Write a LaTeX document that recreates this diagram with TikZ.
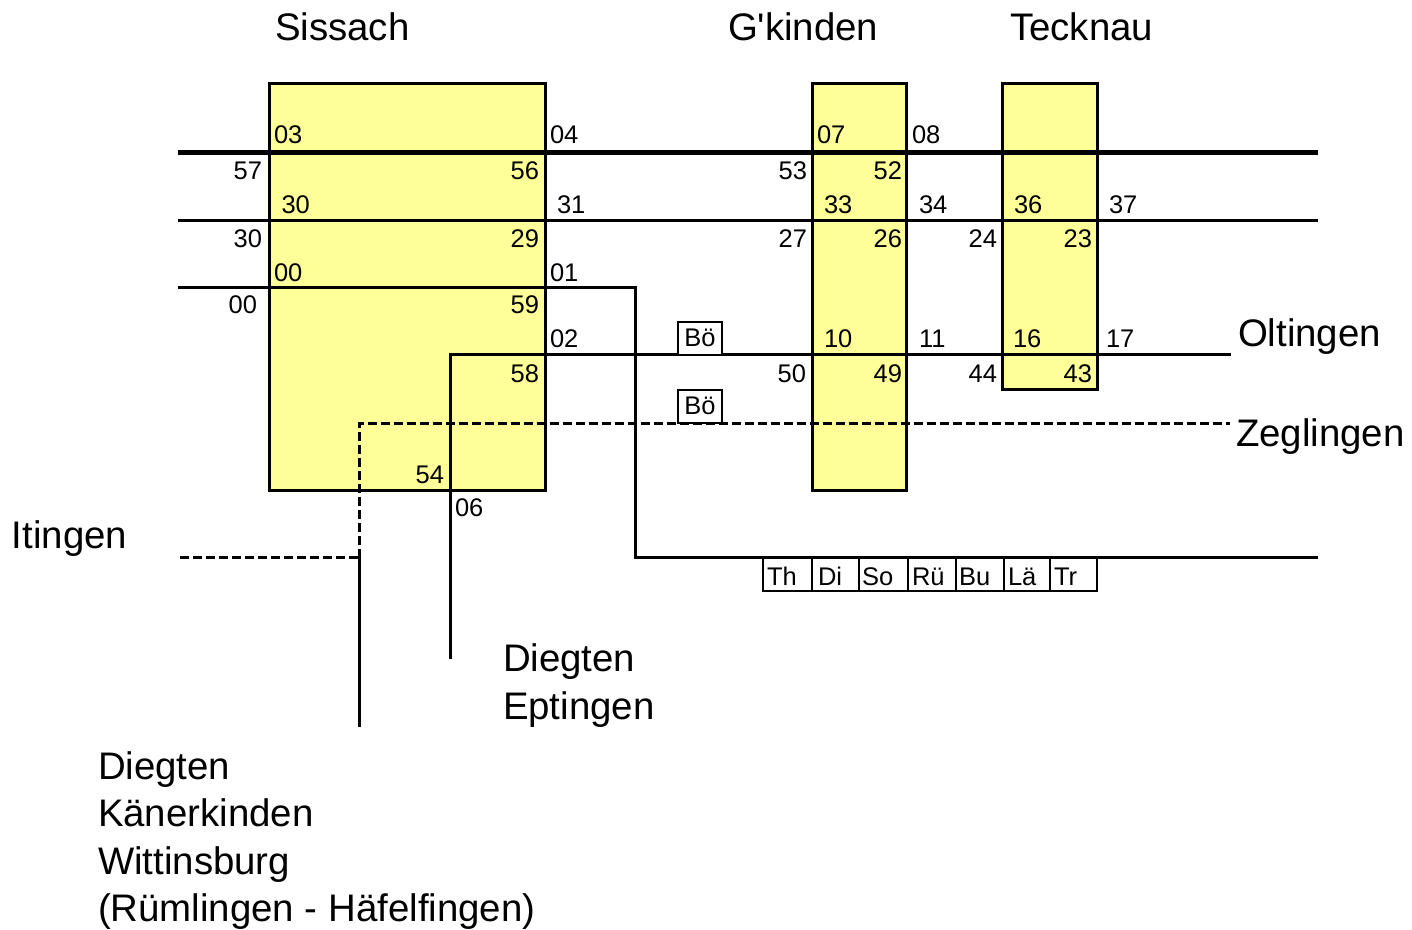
\documentclass[tikz,border=0pt]{standalone}
\usepackage{fontspec}
\setmainfont{Liberation Sans}[Ligatures=TeXOff]
\definecolor{stnyellow}{HTML}{FFFF99}
\begin{document}
\begin{tikzpicture}[x=1pt,y=-1pt,
  stn/.style={draw=black, fill=stnyellow, line width=3pt, inner sep=0pt, outer sep=0pt, anchor=north west},
  num/.style={inner sep=0pt, outer sep=0pt, font=\fontsize{25.5}{30}\selectfont},
  big/.style={inner sep=0pt, outer sep=0pt, anchor=base west, font=\fontsize{38.4}{45}\selectfont},
  track/.style={line width=3pt},
  mainline/.style={line width=5pt},
  branch/.style={line width=3pt, dash pattern=on 9pt off 4pt},
  tagbox/.style={draw=black, fill=white, line width=2pt, inner sep=0pt, outer sep=0pt, minimum width=44pt, minimum height=33pt, font=\fontsize{25.5}{30}\selectfont},
  daybox/.style={draw=black, fill=white, line width=2pt, inner sep=0pt, outer sep=0pt, minimum height=33pt, anchor=north west}
]
\useasboundingbox (0,0) rectangle (1412,929);

% station boxes
\node[stn, minimum width=276pt, minimum height=407pt] (sis) at (269,83) {};
\node[stn, minimum width=94pt, minimum height=407pt] (gki) at (812,83) {};
\node[stn, minimum width=95pt, minimum height=306pt] (tec) at (1002,83) {};

% track coordinates
\coordinate (a1) at (178,152.5); \coordinate (a2) at (1318,152.5);
\coordinate (b1) at (178,220);   \coordinate (b2) at (1318,220);
\coordinate (c1) at (178,287);   \coordinate (c2) at (635,287);
\coordinate (c3) at (635,557);   \coordinate (c4) at (1318,557);
\coordinate (o0) at (450,659);   \coordinate (o1) at (450,354.5);
\coordinate (o2) at (1231,354.5);
\coordinate (z0) at (359,557.5); \coordinate (z1) at (359,423);
\coordinate (z2) at (1230,423);
\coordinate (i1) at (180,557.5);
\coordinate (k1) at (359,727);

% tracks
\draw[mainline] (a1) -- (a2);
\draw[track] (b1) -- (b2);
\draw[track, line join=miter] (c1) -- (c2) -- (c3) -- (c4);
\draw[track, line join=miter] (o0) -- (o1) -- (o2);
\draw[branch] (z0) -- (z1) -- (z2);
\draw[branch] (i1) -- (z0);
\draw[track] (z0) -- (k1);

% redraw box borders on top
\draw[line width=3pt] (sis.north west) rectangle (sis.south east);
\draw[line width=3pt] (gki.north west) rectangle (gki.south east);
\draw[line width=3pt] (tec.north west) rectangle (tec.south east);

% Bö boxes
\node[tagbox] (boe1) at (700,338) {Bö};
\node[tagbox] (boe2) at (700,406) {Bö};

% day boxes
\node[daybox, minimum width=48.7pt] (dTh) at (763,558) {};
\node[daybox, minimum width=47.3pt] (dDi) at (811.7,558) {};
\node[daybox, minimum width=48.7pt] (dSo) at (859,558) {};
\node[daybox, minimum width=48pt] (dRu) at (907.7,558) {};
\node[daybox, minimum width=48.3pt] (dBu) at (955.7,558) {};
\node[daybox, minimum width=46pt] (dLa) at (1004,558) {};
\node[daybox, minimum width=47pt] (dTr) at (1050,558) {};
\node[num, anchor=base west] (tTh) at (767,585) {Th};
\node[num, anchor=base west] (tDi) at (818,585) {Di};
\node[num, anchor=base west] (tSo) at (862,585) {So};
\node[num, anchor=base west] (tRu) at (912,585) {Rü};
\node[num, anchor=base west] (tBu) at (959,585) {Bu};
\node[num, anchor=base west] (tLa) at (1008,585) {Lä};
\node[num, anchor=base west] (tTr) at (1054,585) {Tr};

% numbers, left anchored
\node[num, anchor=base west] (n03) at (274,143) {03};
\node[num, anchor=base west] (n04) at (550,143) {04};
\node[num, anchor=base west] (n07) at (817,143) {07};
\node[num, anchor=base west] (n08) at (912,143) {08};
\node[num, anchor=base west] (n30i) at (281.5,213) {30};
\node[num, anchor=base west] (n31) at (557,213) {31};
\node[num, anchor=base west] (n33) at (824,213) {33};
\node[num, anchor=base west] (n34) at (919,213) {34};
\node[num, anchor=base west] (n36) at (1014,213) {36};
\node[num, anchor=base west] (n37) at (1109,213) {37};
\node[num, anchor=base west] (n00i) at (274,281) {00};
\node[num, anchor=base west] (n01) at (550,281) {01};
\node[num, anchor=base west] (n02) at (550,347) {02};
\node[num, anchor=base west] (n10) at (824,347) {10};
\node[num, anchor=base west] (n11) at (919,347) {11};
\node[num, anchor=base west] (n16) at (1013,347) {16};
\node[num, anchor=base west] (n17) at (1106,347) {17};
\node[num, anchor=base west] (n06) at (455,516) {06};

% numbers, right anchored
\node[num, anchor=base east] (n57) at (262,179) {57};
\node[num, anchor=base east] (n56) at (539,179) {56};
\node[num, anchor=base east] (n53) at (807,179) {53};
\node[num, anchor=base east] (n52) at (902,179) {52};
\node[num, anchor=base east] (n30o) at (262,247) {30};
\node[num, anchor=base east] (n29) at (539,247) {29};
\node[num, anchor=base east] (n27) at (807,247) {27};
\node[num, anchor=base east] (n26) at (902,247) {26};
\node[num, anchor=base east] (n24) at (997,247) {24};
\node[num, anchor=base east] (n23) at (1092,247) {23};
\node[num, anchor=base east] (n00o) at (257,313) {00};
\node[num, anchor=base east] (n59) at (539,313) {59};
\node[num, anchor=base east] (n58) at (539,382) {58};
\node[num, anchor=base east] (n50) at (806,382) {50};
\node[num, anchor=base east] (n49) at (902,382) {49};
\node[num, anchor=base east] (n44) at (997,382) {44};
\node[num, anchor=base east] (n43) at (1092,382) {43};
\node[num, anchor=base east] (n54) at (444,483) {54};

% place names
\node[big] (lSis) at (275,40) {Sissach};
\node[big] (lGki) at (728,40) {G'kinden};
\node[big] (lTec) at (1010,40) {Tecknau};
\node[big] (lOlt) at (1238,346) {Oltingen};
\node[big] (lZeg) at (1236,446) {Zeglingen};
\node[big] (lIti) at (12,548) {Itingen};
\node[big] (lDE1) at (503,671) {Diegten};
\node[big] (lDE2) at (503,719) {Eptingen};
\node[big] (lDK1) at (98,779) {Diegten};
\node[big] (lDK2) at (98,826) {Känerkinden};
\node[big] (lDK3) at (98,874) {Wittinsburg};
\node[big] (lDK4) at (98,921) {(Rümlingen - Häfelfingen)};
\end{tikzpicture}
\end{document}
